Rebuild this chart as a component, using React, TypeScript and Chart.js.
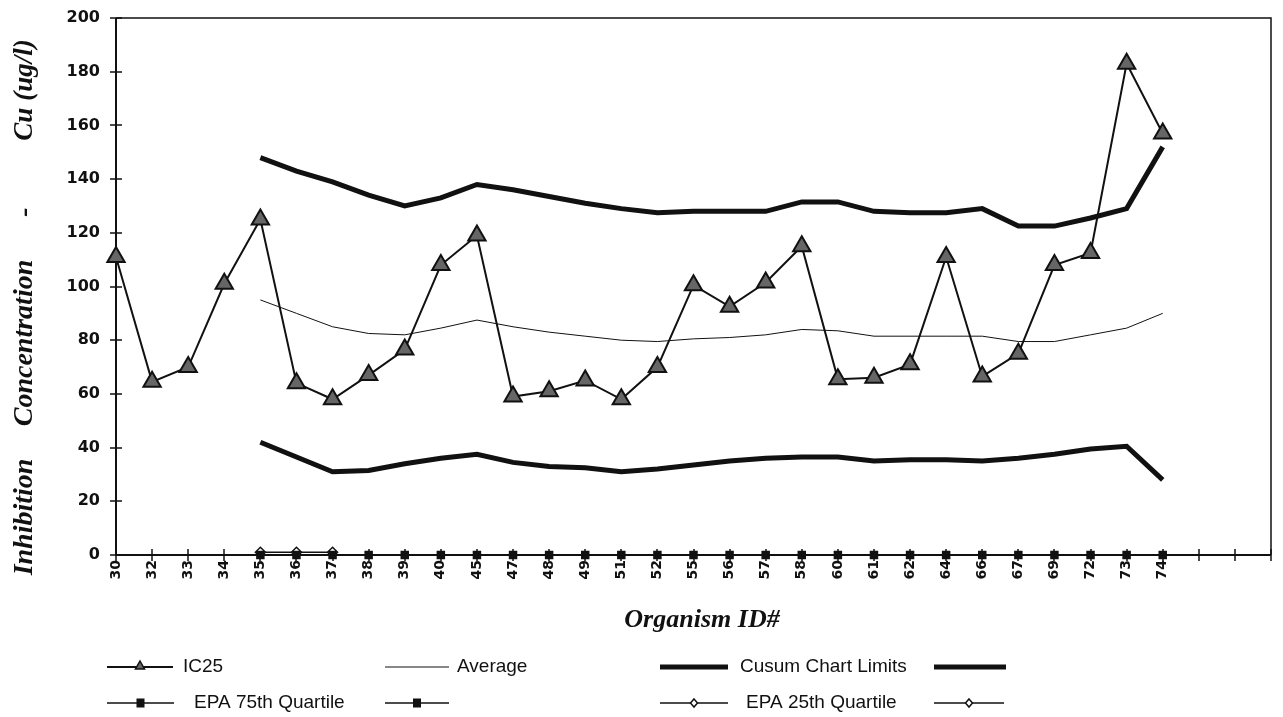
import React, { useEffect, useRef } from 'react';
import { Chart, registerables } from 'chart.js';

Chart.register(...registerables);

// Organism IDs along the x axis (three trailing empty slots keep the axis running past 74)
const organismIds = [
  '30', '32', '33', '34', '35', '36', '37', '38', '39', '40',
  '45', '47', '48', '49', '51', '52', '55', '56', '57', '58',
  '60', '61', '62', '64', '66', '67', '69', '72', '73', '74',
  '', '', '',
];

// IC25 results, ug/l
const ic25 = [
  111, 64.5, 70, 101, 125, 64, 58, 67, 76.5, 108,
  119, 59, 61, 65, 58, 70, 100.5, 92.5, 101.5, 115,
  65.5, 66, 71, 111, 66.5, 75, 108, 112.5, 183, 157,
];

// Running average of IC25
const average = [
  null, null, null, null, 95, 90, 85, 82.5, 82, 84.5,
  87.5, 85, 83, 81.5, 80, 79.5, 80.5, 81, 82, 84,
  83.5, 81.5, 81.5, 81.5, 81.5, 79.5, 79.5, 82, 84.5, 90,
];

// Cusum control limits
const cusumUpper = [
  null, null, null, null, 148, 143, 139, 134, 130, 133,
  138, 136, 133.5, 131, 129, 127.5, 128, 128, 128, 131.5,
  131.5, 128, 127.5, 127.5, 129, 122.5, 122.5, 125.5, 129, 152,
];
const cusumLower = [
  null, null, null, null, 42, 36.5, 31, 31.5, 34, 36,
  37.5, 34.5, 33, 32.5, 31, 32, 33.5, 35, 36, 36.5,
  36.5, 35, 35.5, 35.5, 35, 36, 37.5, 39.5, 40.5, 28,
];

// EPA quartile reference lines
const epa75 = [
  null, null, null, null, 0, 0, 0, 0, 0, 0,
  0, 0, 0, 0, 0, 0, 0, 0, 0, 0,
  0, 0, 0, 0, 0, 0, 0, 0, 0, 0,
];
const epa25 = [null, null, null, null, 1, 1, 1];

const yTicks = { min: 0, max: 200, step: 20 };

const INK = '#111111';
const TRIANGLE_FILL = '#666666';

type Kind = 'triangle' | 'thin' | 'thick' | 'square' | 'diamond';

// Legend entries: symbol span (x0..x1), row centre y, optional text
const legendEntries: { kind: Kind; x0: number; x1: number; y: number; text?: string; tx?: number }[] = [
  { kind: 'triangle', x0: 107, x1: 173, y: 667, text: 'IC25', tx: 183 },
  { kind: 'thin', x0: 385, x1: 449, y: 667, text: 'Average', tx: 457 },
  { kind: 'thick', x0: 660, x1: 728, y: 667, text: 'Cusum Chart Limits', tx: 740 },
  { kind: 'thick', x0: 934, x1: 1006, y: 667 },
  { kind: 'square', x0: 107, x1: 174, y: 703, text: 'EPA 75th Quartile', tx: 194 },
  { kind: 'square', x0: 385, x1: 449, y: 703 },
  { kind: 'diamond', x0: 660, x1: 728, y: 703, text: 'EPA 25th Quartile', tx: 746 },
  { kind: 'diamond', x0: 934, x1: 1004, y: 703 },
];

function drawSymbol(ctx: CanvasRenderingContext2D, kind: Kind, x0: number, x1: number, y: number) {
  const cx = (x0 + x1) / 2;
  ctx.save();
  ctx.strokeStyle = INK;
  ctx.fillStyle = INK;
  ctx.lineCap = 'butt';
  ctx.lineWidth = kind === 'thick' ? 5 : kind === 'thin' ? 1 : kind === 'triangle' ? 2 : 1.5;
  ctx.beginPath();
  ctx.moveTo(x0, y);
  ctx.lineTo(x1, y);
  ctx.stroke();
  if (kind === 'triangle') {
    ctx.beginPath();
    ctx.moveTo(cx, y - 6);
    ctx.lineTo(cx + 4.5, y + 2);
    ctx.lineTo(cx - 4.5, y + 2);
    ctx.closePath();
    ctx.fillStyle = TRIANGLE_FILL;
    ctx.fill();
    ctx.lineWidth = 1.5;
    ctx.stroke();
  } else if (kind === 'square') {
    ctx.fillRect(cx - 4, y - 4.5, 8, 9);
  } else if (kind === 'diamond') {
    ctx.beginPath();
    ctx.moveTo(cx, y - 4);
    ctx.lineTo(cx + 3.5, y);
    ctx.lineTo(cx, y + 4);
    ctx.lineTo(cx - 3.5, y);
    ctx.closePath();
    ctx.fillStyle = '#ffffff';
    ctx.fill();
    ctx.lineWidth = 1.5;
    ctx.stroke();
  }
  ctx.restore();
}

// Axis frame with crossing tick marks, axis titles and the legend
const framePlugin = {
  id: 'frame',
  beforeDatasetsDraw(chart: any) {
    const { ctx, chartArea: a } = chart;
    const x = chart.scales.x;
    const y = chart.scales.y;
    ctx.save();
    ctx.strokeStyle = INK;
    ctx.lineWidth = 1.5;
    ctx.beginPath();
    ctx.moveTo(a.left, a.top);
    ctx.lineTo(a.right, a.top);
    ctx.lineTo(a.right, a.bottom);
    ctx.stroke();

    ctx.lineWidth = 2;
    ctx.beginPath();
    ctx.moveTo(a.left, a.top);
    ctx.lineTo(a.left, a.bottom);
    ctx.lineTo(a.right, a.bottom);
    ctx.stroke();

    ctx.lineWidth = 1.5;
    ctx.beginPath();
    y.ticks.forEach((_t: any, i: number) => {
      const py = Math.round(y.getPixelForTick(i));
      ctx.moveTo(a.left - 6, py);
      ctx.lineTo(a.left + 6, py);
    });
    x.ticks.forEach((_t: any, i: number) => {
      const px = Math.round(x.getPixelForTick(i));
      ctx.moveTo(px, a.bottom - 6);
      ctx.lineTo(px, a.bottom + 6);
    });
    ctx.stroke();
    ctx.restore();
  },
  afterDraw(chart: any) {
    const { ctx } = chart;
    ctx.save();
    ctx.fillStyle = INK;

    // x axis title
    ctx.font = 'italic bold 26px "Liberation Serif", serif';
    ctx.textAlign = 'center';
    ctx.textBaseline = 'middle';
    ctx.fillText('Organism ID#', 702, 620);

    // y axis title, rotated; words spread along the axis
    ctx.save();
    ctx.translate(25, 0);
    ctx.rotate(-Math.PI / 2);
    ctx.textAlign = 'center';
    ctx.font = 'italic bold 28px "Liberation Serif", serif';
    ctx.fillText('Inhibition', -517, 0);
    ctx.fillText('Concentration', -343, 0);
    ctx.fillText('-', -212, 0);
    ctx.font = 'italic bold 27px "Liberation Serif", serif';
    ctx.fillText('Cu (ug/l)', -90, 0);
    ctx.restore();

    // legend
    ctx.font = '19px "Liberation Sans", Arial, sans-serif';
    ctx.textAlign = 'left';
    ctx.textBaseline = 'middle';
    legendEntries.forEach((e) => {
      drawSymbol(ctx, e.kind, e.x0, e.x1, e.y);
      if (e.text) ctx.fillText(e.text, e.tx, e.y);
    });
    ctx.restore();
  },
};

export default function App() {
  const canvasRef = useRef<HTMLCanvasElement | null>(null);

  useEffect(() => {
    document.body.style.margin = '0';
    const canvas = canvasRef.current;
    if (!canvas) return;

    const chart = new Chart(canvas, {
      type: 'line',
      data: {
        labels: organismIds,
        datasets: [
          {
            label: 'Cusum Chart Limits',
            data: cusumUpper,
            borderColor: INK,
            borderWidth: 5,
            pointRadius: 0,
            clip: false,
          },
          {
            label: '',
            data: cusumLower,
            borderColor: INK,
            borderWidth: 5,
            pointRadius: 0,
            clip: false,
          },
          {
            label: 'Average',
            data: average,
            borderColor: INK,
            borderWidth: 1,
            pointRadius: 0,
            clip: false,
          },
          {
            label: 'EPA 75th Quartile',
            data: epa75,
            borderColor: INK,
            borderWidth: 1.5,
            pointStyle: 'rect',
            pointRadius: 6,
            pointBackgroundColor: INK,
            pointBorderColor: INK,
            pointBorderWidth: 0,
            clip: false,
          },
          {
            label: 'EPA 25th Quartile',
            data: epa25,
            borderColor: INK,
            borderWidth: 1.5,
            pointStyle: 'rectRot',
            pointRadius: 5,
            pointBackgroundColor: '#ffffff',
            pointBorderColor: INK,
            pointBorderWidth: 1.5,
            clip: false,
          },
          {
            label: 'IC25',
            data: ic25,
            borderColor: INK,
            borderWidth: 2,
            pointStyle: 'triangle',
            pointRadius: 10,
            pointBackgroundColor: TRIANGLE_FILL,
            pointBorderColor: INK,
            pointBorderWidth: 2,
            clip: false,
          },
        ],
      },
      options: {
        animation: false,
        responsive: false,
        devicePixelRatio: 1,
        layout: { padding: { top: 18, right: 5, left: 0, bottom: 0 } },
        plugins: {
          legend: { display: false },
          tooltip: { enabled: false },
        },
        elements: { line: { tension: 0 } },
        scales: {
          x: {
            type: 'category',
            offset: false,
            grid: { display: false, drawTicks: false },
            border: { display: false },
            ticks: {
              autoSkip: false,
              minRotation: 90,
              maxRotation: 90,
              padding: 5,
              color: INK,
              font: { family: '"DejaVu Sans", sans-serif', size: 14, weight: 'bold' },
            },
            afterFit: (s: any) => {
              s.height = 162;
              s.paddingLeft = 0;
              s.paddingRight = 0;
            },
          },
          y: {
            min: yTicks.min,
            max: yTicks.max,
            grid: { display: false, drawTicks: false },
            border: { display: false },
            ticks: {
              stepSize: yTicks.step,
              padding: 16,
              color: INK,
              font: { family: '"DejaVu Sans", sans-serif', size: 16, weight: 'bold' },
            },
            afterFit: (s: any) => {
              s.width = 116;
              s.paddingTop = 0;
              s.paddingBottom = 0;
            },
          },
        },
      },
      plugins: [framePlugin],
    });

    return () => chart.destroy();
  }, []);

  return (
    <canvas
      ref={canvasRef}
      width={1283}
      height={717}
      style={{ display: 'block', width: 1283, height: 717 }}
    />
  );
}
